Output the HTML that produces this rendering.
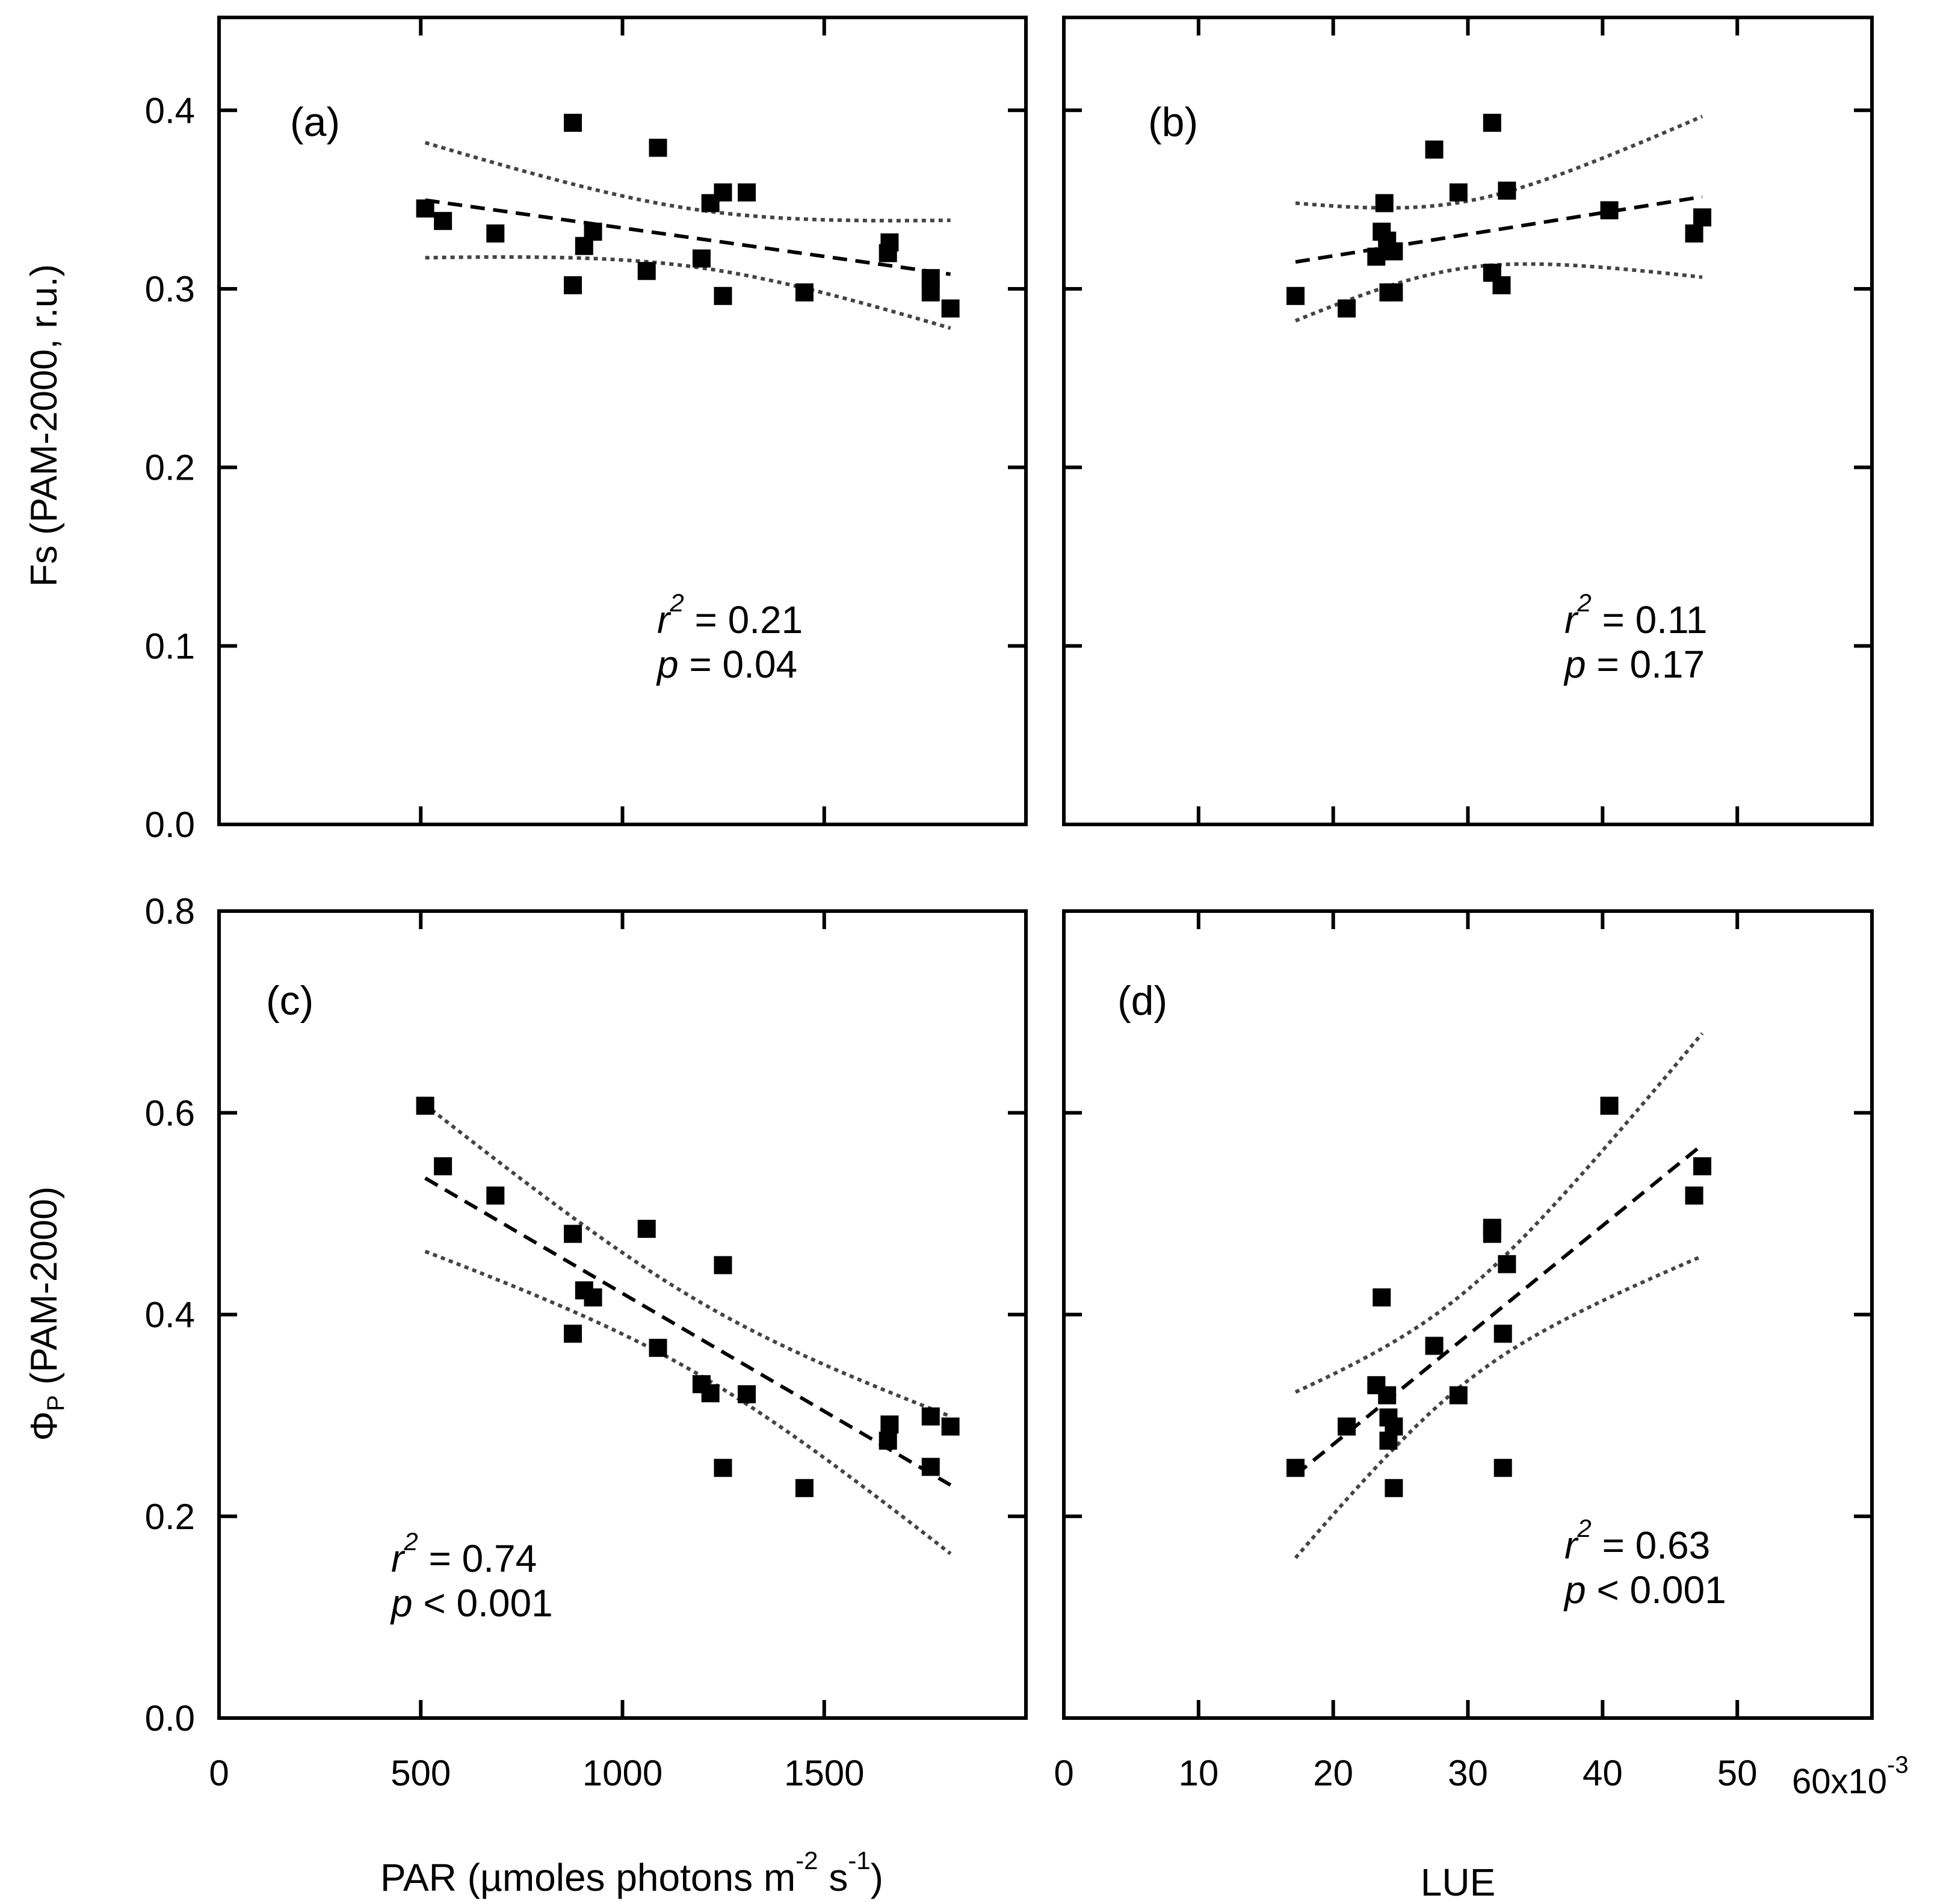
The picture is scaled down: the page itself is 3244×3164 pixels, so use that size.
<!DOCTYPE html>
<html><head><meta charset="utf-8"><style>
html,body{margin:0;padding:0;background:#fff;}
svg{display:block;font-family:"Liberation Sans",sans-serif;}
</style></head><body>
<svg id="chart" width="3244" height="3164" viewBox="0 0 3244 3164" xmlns="http://www.w3.org/2000/svg"></svg>
<script>
// ---- data ----
const parA = [511,555,685,877,877,905,927,1060,1088,1196,1218,1249,1249,1308,1451,1662,1658,1764,1764,1813];
const fsA  = [0.345,0.338,0.331,0.393,0.302,0.324,0.332,0.310,0.379,0.317,0.348,0.354,0.296,0.354,0.298,0.326,0.320,0.306,0.298,0.289];
const parC = [511,555,685,877,877,905,927,1060,1088,1196,1218,1249,1249,1308,1451,1662,1658,1764,1764,1813];
const phiC = [0.607,0.547,0.518,0.480,0.381,0.424,0.417,0.485,0.367,0.331,0.322,0.449,0.248,0.321,0.228,0.291,0.275,0.299,0.249,0.289];
const lueB = [17.2,21.0,23.6,23.8,23.2,24.0,24.5,24.1,24.5,27.5,29.3,31.8,31.8,32.5,32.9,40.5,46.8,47.4];
const fsB  = [0.296,0.289,0.332,0.348,0.318,0.327,0.321,0.298,0.298,0.378,0.354,0.393,0.309,0.302,0.355,0.344,0.331,0.340];
const lueD = [17.2,21.0,23.6,23.2,24.0,24.1,24.5,24.1,24.5,27.5,29.3,31.8,31.8,32.9,32.6,32.6,40.5,46.8,47.4];
const phiD = [0.248,0.289,0.417,0.330,0.320,0.298,0.289,0.275,0.228,0.369,0.320,0.486,0.480,0.450,0.381,0.248,0.607,0.518,0.547];
const yTicksTop = [0,0.1,0.2,0.3,0.4];
const yTickLabelsTop = ["0.0","0.1","0.2","0.3","0.4"];
const yTicksBot = [0,0.2,0.4,0.6,0.8];
const yTickLabelsBot = ["0.0","0.2","0.4","0.6","0.8"];
const xTicksPar = [0,500,1000,1500];
const xTickLabelsPar = ["0","500","1000","1500"];
const xTicksLue = [0,10,20,30,40,50];
const xTickLabelsLue = ["0","10","20","30","40","50"];

const NS="http://www.w3.org/2000/svg";
const svg=document.getElementById('chart');
function el(tag,attrs,parent){const e=document.createElementNS(NS,tag);for(const k in attrs)e.setAttribute(k,attrs[k]);(parent||svg).appendChild(e);return e;}

const X0=364,X1=1705,X2=1768,X3=3111;
const T0=29,T1=1370,B0=1514,B1=2855;

function panel(id,px0,px1,py0,py1,xmin,xmax,ymin,ymax,xt,yt,xData,yData,label,r2,pv,labPos,statPos,xlabels,ylabels){
  const g=el('g',{});
  
  
  const sx=v=>px0+(v-xmin)/(xmax-xmin)*(px1-px0);
  const sy=v=>py1-(v-ymin)/(ymax-ymin)*(py1-py0);
  const frame=el('rect',{x:px0,y:py0,width:px1-px0,height:py1-py0,fill:'none',stroke:'#000','stroke-width':6},g);
  
  
  xt.forEach((v,i)=>{
    if(v===xmin) return;
    const x=sx(v);
    const t1=el('line',{x1:x,y1:py0,x2:x,y2:py0+30,stroke:'#000','stroke-width':6},g);
    
    
    const t2=el('line',{x1:x,y1:py1,x2:x,y2:py1-30,stroke:'#000','stroke-width':6},g);
    
    
  });
  if(xlabels){
    xt.forEach((v,i)=>{
      const t=el('text',{x:sx(v),y:py1+112,'font-size':60,'text-anchor':'middle'},g);
      t.textContent=xlabels[i];
      
      
    });
  }
  yt.forEach((v,i)=>{
    if(v===ymin) return;
    const y=sy(v);
    const t1=el('line',{x1:px0,y1:y,x2:px0+30,y2:y,stroke:'#000','stroke-width':6},g);
    
    
    const t2=el('line',{x1:px1,y1:y,x2:px1-30,y2:y,stroke:'#000','stroke-width':6},g);
    
    
  });
  if(ylabels){
    yt.forEach((v,i)=>{
      const t=el('text',{x:px0-40,y:sy(v)+21,'font-size':60,'text-anchor':'end'},g);
      t.textContent=ylabels[i];
      
      
    });
  }
  // regression
  const n=xData.length;
  const mx=xData.reduce((a,b)=>a+b,0)/n, my=yData.reduce((a,b)=>a+b,0)/n;
  let sxx=0,sxy=0;for(let i=0;i<n;i++){sxx+=(xData[i]-mx)**2;sxy+=(xData[i]-mx)*(yData[i]-my);}
  const b=sxy/sxx,a=my-b*mx;
  let sse=0;for(let i=0;i<n;i++){sse+=(yData[i]-a-b*xData[i])**2;}
  const s=Math.sqrt(sse/(n-2)),tv=2.8;
  const lo=Math.min(...xData),hi=Math.max(...xData);
  let up=[],dn=[];
  for(let k=0;k<=40;k++){
    const xv=lo+(hi-lo)*k/40;const yv=a+b*xv;
    const h=tv*s*Math.sqrt(1/n+(xv-mx)**2/sxx);
    up.push(sx(xv)+','+sy(yv+h));dn.push(sx(xv)+','+sy(yv-h));
  }
  const bu=el('polyline',{points:up.join(' '),fill:'none',stroke:'#444','stroke-width':6,'stroke-dasharray':'7 7'},g);
  
  
  const bd=el('polyline',{points:dn.join(' '),fill:'none',stroke:'#444','stroke-width':6,'stroke-dasharray':'7 7'},g);
  
  
  const fl=el('line',{x1:sx(lo),y1:sy(a+b*lo),x2:sx(hi),y2:sy(a+b*hi),stroke:'#000','stroke-width':6,'stroke-dasharray':'24 14'},g);
  
  
  for(let i=0;i<n;i++){
    const m=el('rect',{x:sx(xData[i])-15,y:sy(yData[i])-15,width:30,height:30,fill:'#000'},g);
    
    
  }
  const lt=el('text',{x:labPos[0],y:labPos[1],'font-size':68},g);
  lt.textContent=label;
  
  
  const st=el('text',{x:statPos[0],y:statPos[1],'font-size':64},g);
  
  
  const r=el('tspan',{'font-style':'italic'},st);r.textContent='r';
  const sup=el('tspan',{'font-style':'italic','font-size':42,dy:-36},st);sup.textContent='2';
  const rest=el('tspan',{dy:36},st);rest.textContent=' = '+r2;
  const pt=el('text',{x:statPos[0],y:statPos[1]+74,'font-size':64},g);
  
  
  const pi=el('tspan',{'font-style':'italic'},pt);pi.textContent='p';
  const pr=el('tspan',{},pt);pr.textContent=pv;
}

panel('a',X0,X1,T0,T1,0,2000,0,0.452,xTicksPar,yTicksTop,parA,fsA,'(a)','0.21',' = 0.04',[482,226],[1092,1052],null,yTickLabelsTop);
panel('b',X2,X3,T0,T1,0,60,0,0.452,xTicksLue,yTicksTop,lueB,fsB,'(b)','0.11',' = 0.17',[1908,226],[2600,1052],null,null);
panel('c',X0,X1,B0,B1,0,2000,0,0.8,xTicksPar,yTicksBot,parC,phiC,'(c)','0.74',' < 0.001',[442,1686],[650,2612],xTickLabelsPar,yTickLabelsBot);
panel('d',X2,X3,B0,B1,0,60,0,0.8,xTicksLue,yTicksBot,lueD,phiD,'(d)','0.63',' < 0.001',[1857,1686],[2600,2590],xTickLabelsLue,null);

// 60x10^-3 label
const ex=el('text',{x:2978,y:2980,'font-size':58});


ex.appendChild(document.createTextNode('60x10'));
const es=el('tspan',{'font-size':40,dy:-34},ex);es.textContent='-3';

// axis titles
const yt1=el('text',{x:0,y:0,'font-size':62,'text-anchor':'middle',transform:'translate(94,707) rotate(-90)'});
yt1.textContent='Fs (PAM-2000, r.u.)';


const yt2=el('text',{x:0,y:0,'font-size':62,'text-anchor':'middle',transform:'translate(94,2183) rotate(-90)'});


yt2.appendChild(document.createTextNode('Φ'));
const ys=el('tspan',{'font-size':40,dy:12},yt2);ys.textContent='P';
const yr=el('tspan',{dy:-12},yt2);yr.textContent=' (PAM-2000)';

const xt1=el('text',{x:1050,y:3142,'font-size':64,'text-anchor':'middle'});


xt1.appendChild(document.createTextNode('PAR (µmoles photons m'));
const s1=el('tspan',{'font-size':42,dy:-36},xt1);s1.textContent='-2';
const s2=el('tspan',{dy:36},xt1);s2.textContent=' s';
const s3=el('tspan',{'font-size':42,dy:-36},xt1);s3.textContent='-1';
const s4=el('tspan',{dy:36},xt1);s4.textContent=')';

const xt2=el('text',{x:2423,y:3150,'font-size':64,'text-anchor':'middle'});
xt2.textContent='LUE';


</script>
</body></html>
